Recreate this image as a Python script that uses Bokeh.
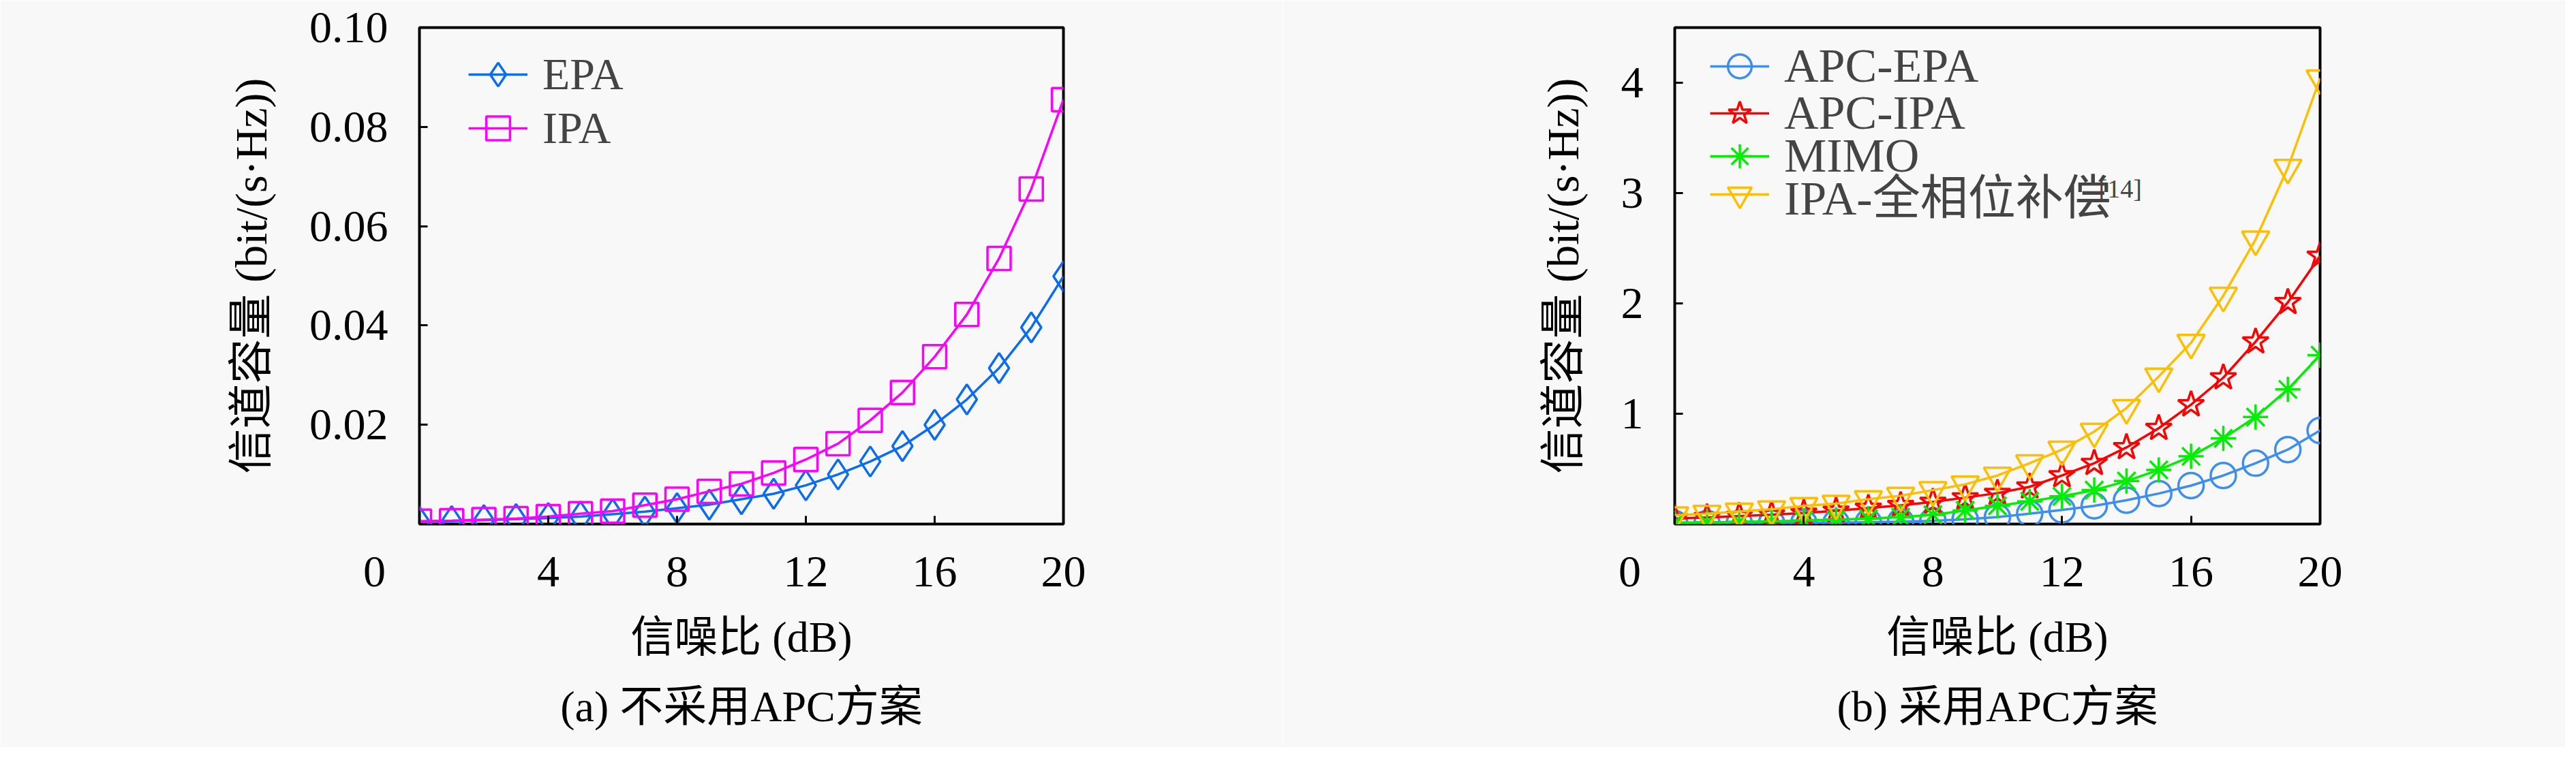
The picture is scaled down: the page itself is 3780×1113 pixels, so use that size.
from bokeh.embed import file_html
from bokeh.layouts import row
from bokeh.models import (FixedTicker, Label, Legend, LegendItem,
                          PrintfTickFormatter, Range1d)
from bokeh.plotting import figure
from bokeh.resources import INLINE

# 信噪比 (dB)
snr = list(range(0, 21))

# (a) 不采用APC方案
epa = [0.0005, 0.0006, 0.0008, 0.0010, 0.0012, 0.0015, 0.0020, 0.0025, 0.0032, 0.0039,
       0.0050, 0.0061, 0.0078, 0.0100, 0.0126, 0.0157, 0.0200, 0.0251, 0.0314, 0.0396, 0.0499]
ipa = [0.0006, 0.0007, 0.0009, 0.0011, 0.0015, 0.0021, 0.0026, 0.0038, 0.0050, 0.0066,
       0.0081, 0.0103, 0.0130, 0.0162, 0.0209, 0.0265, 0.0337, 0.0422, 0.0535, 0.0675, 0.0855]

# (b) 采用APC方案
apc_epa = [0.005, 0.006, 0.008, 0.010, 0.012, 0.014, 0.017, 0.022, 0.030, 0.043,
           0.063, 0.094, 0.128, 0.165, 0.216, 0.277, 0.349, 0.440, 0.552, 0.675, 0.848]
apc_ipa = [0.050, 0.060, 0.072, 0.085, 0.100, 0.120, 0.145, 0.170, 0.200, 0.240,
           0.280, 0.338, 0.440, 0.552, 0.695, 0.869, 1.083, 1.327, 1.653, 2.010, 2.430]
mimo = [0.012, 0.015, 0.020, 0.025, 0.032, 0.040, 0.050, 0.063, 0.084, 0.124,
        0.165, 0.206, 0.251, 0.308, 0.390, 0.491, 0.614, 0.777, 0.970, 1.221, 1.531]
ipa_full = [0.080, 0.094, 0.114, 0.134, 0.165, 0.185, 0.226, 0.257, 0.308, 0.360,
            0.440, 0.552, 0.675, 0.838, 1.052, 1.338, 1.643, 2.070, 2.580, 3.230, 4.040]

# the shared origin "0" sits left of the corner, so pad it with em spaces
x_ticks = [0, 4, 8, 12, 16, 20]
x_labels = {0: '0\u2003\u2003'}
y_ticks_a = [0.02, 0.04, 0.06, 0.08, 0.10]
y_ticks_b = [1, 2, 3, 4]

FONT = "'Liberation Serif', 'Noto Sans CJK SC'"
BG = '#f8f8f8'


def make_fig(ymax, border_left, border_right, caption):
    p = figure(width=1882, height=1097, output_backend="svg", toolbar_location=None,
               x_range=Range1d(0, 20), y_range=Range1d(0, ymax),
               min_border_left=border_left, min_border_right=border_right,
               min_border_top=40, min_border_bottom=328)
    p.background_fill_color = BG
    p.border_fill_color = BG
    p.outline_line_color = 'black'
    p.outline_line_width = 4
    p.xgrid.visible = False
    p.ygrid.visible = False
    for ax in (p.xaxis, p.yaxis):
        ax.axis_line_color = None
        ax.major_tick_in = 12
        ax.major_tick_out = 0
        ax.major_tick_line_width = 3
        ax.minor_tick_line_color = None
        ax.major_label_text_font = FONT
        ax.major_label_text_font_size = '66px'
        ax.major_label_text_color = 'black'
        ax.axis_label_text_font = FONT
        ax.axis_label_text_font_size = '66px'
        ax.axis_label_text_font_style = 'normal'
        ax.axis_label_text_color = 'black'
    p.xaxis.ticker = FixedTicker(ticks=x_ticks)
    p.xaxis.major_label_overrides = x_labels
    p.xaxis.major_label_standoff = 32
    p.xaxis.axis_label_standoff = 22
    p.yaxis.major_label_standoff = 46
    p.yaxis.axis_label_standoff = 46
    # the sub-figure caption sits on a second line under the x label
    p.xaxis.axis_label = '信噪比 (dB)\n' + caption
    p.xaxis.axis_label_text_font_size = '64px'
    p.xaxis.axis_label_text_line_height = 1.45
    p.yaxis.axis_label = '信道容量 (bit/(s·Hz))'
    return p


def add_series(p, y, color, marker, size):
    r1 = p.line(snr, y, line_color=color, line_width=3.5)
    r2 = p.scatter(snr, y, marker=marker, size=size, fill_color=None,
                   line_color=color, line_width=3.5)
    return [r1, r2]


def add_legend(p, label, renderers, x, y, font_size):
    # one legend per entry so the row pitch can follow the reference
    leg = Legend(items=[LegendItem(label=label, renderers=renderers)],
                 location=(x, y), border_line_color=None, background_fill_alpha=0,
                 padding=0, spacing=0, glyph_width=87, glyph_height=100,
                 label_standoff=22, label_text_font=FONT,
                 label_text_font_size=font_size)
    p.add_layout(leg)


# (a)
p1 = make_fig(0.1, 615, 322, '(a) 不采用APC方案')
p1.yaxis.ticker = FixedTicker(ticks=y_ticks_a)
p1.yaxis.formatter = PrintfTickFormatter(format='%.2f')
ra = add_series(p1, epa, '#0a6cf0', 'diamond', 44)
rb = add_series(p1, ipa, '#ff00ff', 'square', 34)
add_legend(p1, 'EPA', ra, 72, 610, '66px')
add_legend(p1, 'IPA', rb, 72, 531, '66px')

# (b)
p2 = make_fig(4.5, 575, 360, '(b) 采用APC方案')
p2.yaxis.ticker = FixedTicker(ticks=y_ticks_b)
r1 = add_series(p2, apc_epa, '#3c8ff0', 'circle', 37)
r2 = add_series(p2, apc_ipa, '#ff0000', 'star', 40)
r3 = add_series(p2, mimo, '#00ee00', 'asterisk', 37)
r4 = add_series(p2, ipa_full, '#ffbf00', 'inverted_triangle', 40)
add_legend(p2, 'APC-EPA', r1, 52, 622, '70px')
add_legend(p2, 'APC-IPA', r2, 52, 553, '70px')
add_legend(p2, 'MIMO', r3, 52, 490, '70px')
add_legend(p2, 'IPA-全相位补偿', r4, 52, 434, '70px')
p2.add_layout(Label(x=0, y=4.5, x_offset=622, y_offset=-236, text='[14]',
                    text_font=FONT, text_font_size='38px', text_align='left',
                    text_baseline='middle'))

layout = row(p1, p2)
open("out.html", "w").write(file_html(layout, INLINE))
